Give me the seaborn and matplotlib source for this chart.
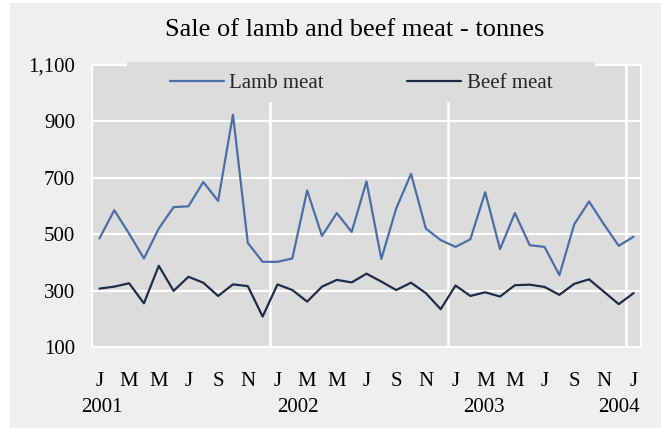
import matplotlib
matplotlib.use("Agg")
import matplotlib.pyplot as plt
import matplotlib.transforms as mtransforms
from matplotlib.patches import Rectangle
from matplotlib.lines import Line2D
import seaborn as sns
import pandas as pd
import numpy as np

# ---- data (monthly, Jan 2001 .. Jan 2004) ----
months = ["J", "F", "M", "A", "M", "J", "J", "A", "S", "O", "N", "D"] * 3 + ["J"]
lamb = [485, 585, 502, 414, 520, 596, 599, 685, 618, 924, 469, 402,
        402, 414, 655, 494, 575, 508, 687, 412, 591, 714, 520, 479,
        455, 482, 649, 447, 575, 461, 455, 355, 535, 616, 535, 459,
        491]
beef = [307, 314, 326, 255, 388, 299, 349, 328, 281, 322, 316, 208,
        322, 302, 261, 314, 338, 329, 360, 332, 302, 328, 291, 234,
        318, 281, 294, 279, 319, 321, 313, 285, 324, 340, 296, 252,
        291]
years = ["2001", "2002", "2003", "2004"]
year_pos = [0.16, 13.4, 25.9, 35.0]
y_ticks = [100, 300, 500, 700, 900, 1100]
series_names = ["Lamb meat", "Beef meat"]
colors = ["#4C6EA8", "#1F2C48"]

idx = list(range(len(lamb)))
df = pd.DataFrame({
    "t": idx * 2,
    "value": lamb + beef,
    "series": [series_names[0]] * len(lamb) + [series_names[1]] * len(beef),
})

sns.set_style("white")
plt.rcParams["font.family"] = ["Liberation Serif", "DejaVu Serif"]

W, H = 661, 428
fig = plt.figure(figsize=(W / 100, H / 100), dpi=100, facecolor="white")
# light grey chart area with thin white margin
fig.patches.append(Rectangle((10 / W, 0), 1 - 10 / W, 1 - 3 / H,
                             transform=fig.transFigure, facecolor="#EFEFEF",
                             edgecolor="none", zorder=-10))

L, R, T, B = 92, 641, 65, 347
ax = fig.add_axes([L / W, 1 - B / H, (R - L) / W, (B - T) / H])
ax.set_facecolor("#DCDCDC")

sns.lineplot(data=df, x="t", y="value", hue="series", palette=colors,
             linewidth=1.6, ax=ax, legend=False, zorder=4)

ax.set_xlim(-0.5, 36.5)
ax.set_ylim(100, 1100)
ax.set_yticks(y_ticks)
ax.set_yticklabels([f"{v:,}" for v in y_ticks])
ax.set_xticks(idx[::2])
ax.set_xticklabels(months[::2])
ax.tick_params(axis="both", length=0, labelsize=15, colors="black")
ax.tick_params(axis="y", pad=12)
ax.tick_params(axis="x", pad=18)
ax.set_xlabel("")
ax.set_ylabel("")

# grid: horizontal at y ticks, vertical at year boundaries
ax.set_axisbelow(True)
ax.grid(axis="y", color="white", linewidth=1.5)
for xv in [11.5, 23.5, 35.5]:
    ax.axvline(xv, color="white", linewidth=1.8, zorder=1)
for s in ax.spines.values():
    s.set_color("white")
    s.set_linewidth(1.5)

# legend background box covering grid/top border
lx0 = (127 - L) / (R - L)
lx1 = (595 - L) / (R - L)
ly0 = (B - 101.7) / (B - T)
ax.add_patch(Rectangle((lx0, ly0), lx1 - lx0, 1.01 - ly0, transform=ax.transAxes,
                       facecolor="#DCDCDC", edgecolor="none", zorder=3,
                       clip_on=False))
handles = [Line2D([], [], color=c, linewidth=1.6) for c in colors]
leg = ax.legend(handles, series_names, loc="center",
                bbox_to_anchor=((lx0 + lx1) / 2, (ly0 + 1) / 2),
                ncol=2, frameon=False, fontsize=15, handlelength=2.6,
                handletextpad=0.25, columnspacing=4.0)
leg.set_zorder(5)

# year labels under month labels
trans = mtransforms.blended_transform_factory(ax.transData, fig.transFigure)
for yr, xp in zip(years, year_pos):
    ax.text(xp, 1 - 408 / H, yr, transform=trans, ha="center", va="center",
            fontsize=15, color="black", clip_on=False)

fig.text(354.5 / W, 1 - 30 / H, "Sale of lamb and beef meat - tonnes",
         ha="center", va="center", fontsize=19, color="black")

fig.savefig("out.png", dpi=100, facecolor=fig.get_facecolor())
